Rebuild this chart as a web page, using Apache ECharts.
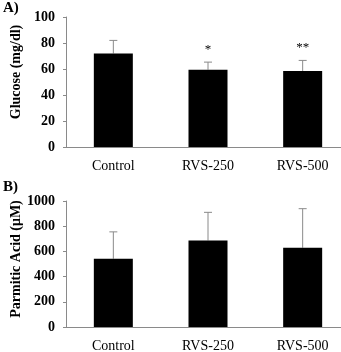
<!DOCTYPE html>
<html>
<head>
<meta charset="utf-8">
<script src="https://cdn.jsdelivr.net/npm/echarts@6/dist/echarts.min.js"></script>
<style>
  html, body { margin: 0; padding: 0; background: #fff; }
  #chart { width: 341px; height: 352px; }
</style>
</head>
<body>
<div id="chart"></div>
<script>
const categories = ["Control", "RVS-250", "RVS-500"];
// panel A: glucose
const glucose = [72, 59.5, 58.5];
const glucoseErr = [82, 65.3, 66.6];
const glucoseSig = ["", "*", "**"];
const glucoseTicks = [0, 20, 40, 60, 80, 100];
// panel B: palmitic acid
const palmitic = [542, 687, 629];
const palmiticErr = [755, 910, 939];
const palmiticTicks = [0, 200, 400, 600, 800, 1000];

const serif = "Liberation Serif";
const axisGray = "#8a8a8a";

function yAxisFor(gridIndex, ticks) {
  return {
    gridIndex: gridIndex,
    type: "value",
    min: ticks[0],
    max: ticks[ticks.length - 1],
    interval: ticks[1] - ticks[0],
    axisLine: { show: true, lineStyle: { color: axisGray, width: 1 } },
    axisTick: { show: true, inside: false, length: 3, lineStyle: { color: axisGray } },
    axisLabel: { fontFamily: serif, fontWeight: "bold", fontSize: 14, color: "#000", margin: 11, formatter: v => String(v) },
    splitLine: { show: false }
  };
}

function xAxisFor(gridIndex) {
  return {
    gridIndex: gridIndex,
    type: "category",
    data: categories,
    axisLine: { lineStyle: { color: axisGray, width: 1 } },
    axisTick: { show: false },
    axisLabel: { fontFamily: serif, fontSize: 14, color: "#000", margin: 12, interval: 0 }
  };
}

// upper error whisker with a cap, optionally a significance mark above it
function errSeries(idx, means, tops, marks) {
  return {
    type: "custom",
    xAxisIndex: idx,
    yAxisIndex: idx,
    data: tops.map((t, i) => [i, means[i], t]),
    renderItem: function (params, api) {
      const base = api.coord([api.value(0), api.value(1)]);
      const top = api.coord([api.value(0), api.value(2)]);
      const mark = marks ? marks[params.dataIndex] : "";
      const children = [
        { type: "line", shape: { x1: base[0], y1: base[1], x2: top[0], y2: top[1] }, style: { stroke: axisGray, lineWidth: 1 } },
        { type: "line", shape: { x1: top[0] - 4, y1: top[1], x2: top[0] + 4, y2: top[1] }, style: { stroke: axisGray, lineWidth: 1 } }
      ];
      if (mark) {
        children.push({ type: "text", x: top[0], y: top[1] - 6, style: { text: mark, fill: "#000", font: "13px " + serif, align: "center", verticalAlign: "bottom" } });
      }
      return { type: "group", children: children };
    },
    z: 1
  };
}

function axisName(text, x, y) {
  return {
    type: "text", x: x, y: y, rotation: Math.PI / 2,
    style: { text: text, fill: "#000", font: "bold 14px " + serif, align: "center", verticalAlign: "middle" }
  };
}

const chart = echarts.init(document.getElementById("chart"), null, { renderer: "canvas" });
chart.setOption({
  animation: false,
  backgroundColor: "#fff",
  title: [
    { text: "A)", left: -2, top: -4, textStyle: { fontFamily: serif, fontWeight: "bold", fontSize: 15, color: "#000" } },
    { text: "B)", left: -2, top: 175, textStyle: { fontFamily: serif, fontWeight: "bold", fontSize: 15, color: "#000" } }
  ],
  graphic: [
    axisName("Glucose (mg/dl)", 16, 72),
    axisName("Parmitic Acid (μM)", 16, 259)
  ],
  grid: [
    { left: 66, top: 17, width: 284, height: 130, outerBoundsMode: "none", containLabel: false },
    { left: 66, top: 201, width: 284, height: 126, outerBoundsMode: "none", containLabel: false }
  ],
  xAxis: [xAxisFor(0), xAxisFor(1)],
  yAxis: [yAxisFor(0, glucoseTicks), yAxisFor(1, palmiticTicks)],
  series: [
    { type: "bar", xAxisIndex: 0, yAxisIndex: 0, data: glucose, barWidth: 39, itemStyle: { color: "#000" }, z: 2 },
    { type: "bar", xAxisIndex: 1, yAxisIndex: 1, data: palmitic, barWidth: 39, itemStyle: { color: "#000" }, z: 2 },
    errSeries(0, glucose, glucoseErr, glucoseSig),
    errSeries(1, palmitic, palmiticErr, null)
  ]
});
</script>
</body>
</html>
